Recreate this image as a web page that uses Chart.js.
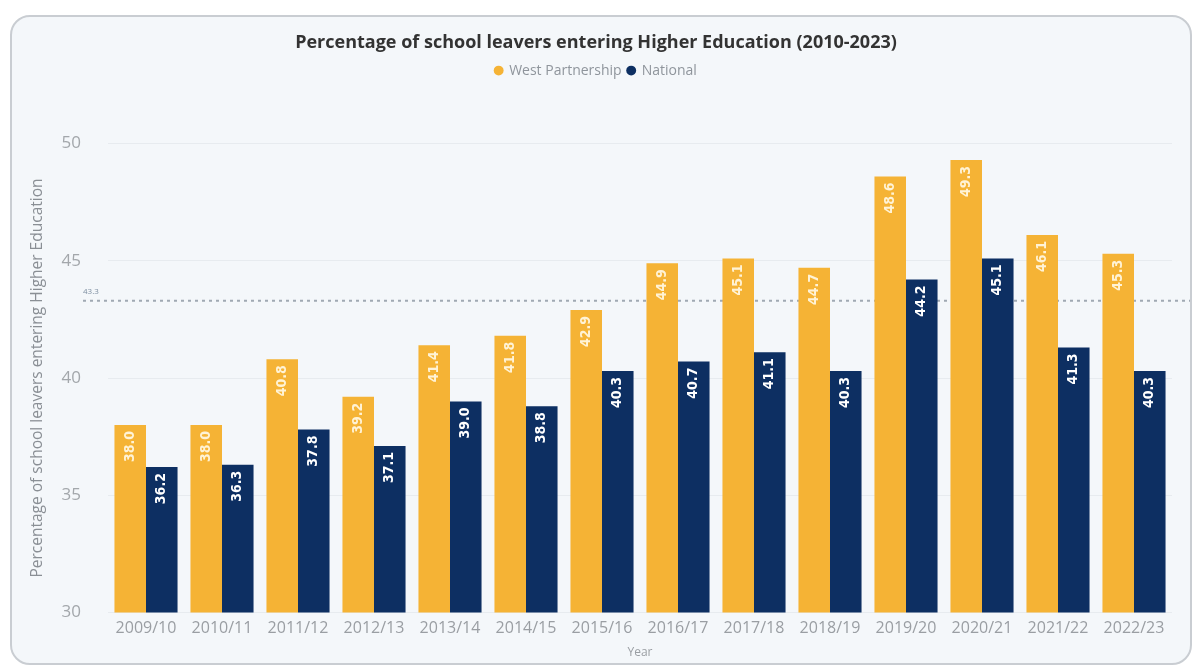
<!DOCTYPE html>
<html>
<head>
<meta charset="utf-8">
<script src="https://cdn.jsdelivr.net/npm/chart.js@4/dist/chart.umd.min.js"></script>
<style>
  html, body { margin: 0; padding: 0; background: #ffffff; }
  #card {
    position: absolute; left: 10px; top: 15px; width: 1178px; height: 646px;
    background: #f4f7fa; border: 2px solid #c9cdd2; border-radius: 20px;
  }
  #wrap { position: absolute; left: 0; top: 0; width: 1197px; height: 668px; }
</style>
</head>
<body>
<div id="card"></div>
<div id="wrap"><canvas id="heChart"></canvas></div>
<script>
const years = ['2009/10', '2010/11', '2011/12', '2012/13', '2013/14', '2014/15', '2015/16',
               '2016/17', '2017/18', '2018/19', '2019/20', '2020/21', '2021/22', '2022/23'];
const westPartnership = [38.0, 38.0, 40.8, 39.2, 41.4, 41.8, 42.9, 44.9, 45.1, 44.7, 48.6, 49.3, 46.1, 45.3];
const national = [36.2, 36.3, 37.8, 37.1, 39.0, 38.8, 40.3, 40.7, 41.1, 40.3, 44.2, 45.1, 41.3, 40.3];
const averageLine = 43.3;

const ORANGE = '#f5b335';
const NAVY = '#0d2f62';
const BASE_FONT = '"Open Sans", "Noto Sans", sans-serif';
const LABEL_FONT = 'bold 14px "DejaVu Sans Condensed", "Liberation Sans Narrow", Roboto, sans-serif';

// push the plot down below the legend
const legendSpacer = {
    id: 'legendSpacer',
    beforeInit(chart) {
        const fit = chart.legend.fit;
        chart.legend.fit = function() {
            fit.bind(chart.legend)();
            this.height += 56;
        };
    }
};

// dotted reference line with its small value tag
const refLine = {
    id: 'refLine',
    beforeDatasetsDraw(chart) {
        const { ctx, chartArea, scales } = chart;
        const y = scales.y.getPixelForValue(averageLine);
        ctx.save();
        ctx.strokeStyle = '#a0a9b3';
        ctx.lineWidth = 2;
        ctx.setLineDash([3, 4]);
        ctx.beginPath();
        ctx.moveTo(chartArea.left - 25, y);
        ctx.lineTo(chartArea.right + 18, y);
        ctx.stroke();
        ctx.setLineDash([]);
        ctx.fillStyle = '#7d8ea0';
        ctx.font = '8px ' + BASE_FONT;
        ctx.textAlign = 'left';
        ctx.textBaseline = 'bottom';
        ctx.fillText(averageLine.toFixed(1), chartArea.left - 25, y - 5);
        ctx.restore();
    }
};

// vertical value labels inside the top of each bar
const barLabels = {
    id: 'barLabels',
    afterDatasetsDraw(chart) {
        const { ctx } = chart;
        ctx.save();
        ctx.font = LABEL_FONT;
        ctx.textAlign = 'right';
        ctx.textBaseline = 'middle';
        chart.data.datasets.forEach((ds, i) => {
            const meta = chart.getDatasetMeta(i);
            ctx.fillStyle = i === 0 ? '#fff3d6' : '#ffffff';
            meta.data.forEach((bar, j) => {
                ctx.save();
                ctx.translate(bar.x, bar.y + 6);
                ctx.rotate(-Math.PI / 2);
                ctx.fillText(ds.data[j].toFixed(1), 0, 0);
                ctx.restore();
            });
        });
        ctx.restore();
    }
};

new Chart(document.getElementById('heChart'), {
    type: 'bar',
    data: {
        labels: years,
        datasets: [
            { label: 'West Partnership', data: westPartnership, backgroundColor: ORANGE },
            { label: 'National', data: national, backgroundColor: NAVY }
        ]
    },
    options: {
        responsive: true,
        maintainAspectRatio: false,
        animation: false,
        datasets: { bar: { categoryPercentage: 0.83, barPercentage: 1.0 } },
        layout: { padding: { top: 26, left: 20, right: 25, bottom: 8 } },
        plugins: {
            title: {
                display: true,
                text: 'Percentage of school leavers entering Higher Education (2010-2023)',
                color: '#333333',
                font: { family: BASE_FONT, size: 18, weight: 'bold' },
                padding: { top: 6, bottom: 4 }
            },
            legend: {
                labels: {
                    usePointStyle: true,
                    pointStyle: 'circle',
                    boxWidth: 7,
                    boxHeight: 7,
                    padding: 6,
                    color: '#8f959c',
                    font: { family: BASE_FONT, size: 14 }
                }
            },
            tooltip: { enabled: false }
        },
        scales: {
            x: {
                grid: { display: false, drawTicks: false },
                border: { display: false },
                ticks: { color: '#9a9ea3', font: { family: BASE_FONT, size: 16 }, padding: 6, maxRotation: 0 },
                title: { display: true, text: 'Year', color: '#9a9ea3', font: { family: BASE_FONT, size: 12 }, padding: { top: 2, bottom: 0 } }
            },
            y: {
                min: 30,
                max: 50,
                ticks: { stepSize: 5, color: '#a3a7ab', font: { family: BASE_FONT, size: 17 }, padding: 27 },
                grid: { color: '#e7ebef', drawTicks: false },
                border: { display: false },
                title: {
                    display: true,
                    text: 'Percentage of school leavers entering Higher Education',
                    color: '#8a8f95',
                    font: { family: BASE_FONT, size: 15.5 },
                    padding: { top: 8, bottom: 0 }
                },
                afterFit(scale) { scale.width = 88; }
            }
        }
    },
    plugins: [legendSpacer, refLine, barLabels]
});
</script>
</body>
</html>
